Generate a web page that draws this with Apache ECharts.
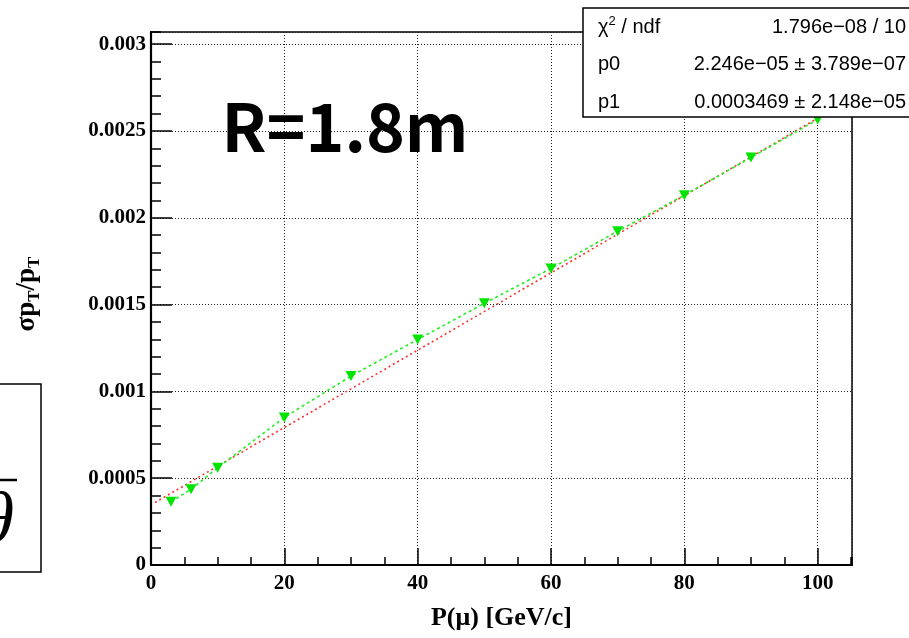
<!DOCTYPE html>
<html>
<head>
<meta charset="utf-8">
<script src="https://cdn.jsdelivr.net/npm/echarts@6/dist/echarts.min.js"></script>
<style>
  html, body { margin: 0; padding: 0; background: #fff; }
  #chart { width: 909px; height: 638px; }
</style>
</head>
<body>
<div id="chart"></div>
<script>
// momentum points (GeV/c) and measured resolution
const pValues = [3, 6, 10, 20, 30, 40, 50, 60, 70, 80, 90, 100];
const sigmaValues = [0.000364, 0.000436, 0.000560, 0.000850, 0.001088, 0.001299,
                     0.001507, 0.001708, 0.001923, 0.002130, 0.002347, 0.002566];

// end points of the linear fit (red dotted line)
const fitX = [0.6, 103];
const fitY = [0.000360, 0.002640];

// stats box rows
const statNames = ['{n|χ}{sup|2}{n| / ndf}', 'p0', 'p1'];
const statValues = ['1.796e\u221208 / 10', '2.246e\u221205 \u00b1 3.789e\u221207', '0.0003469 \u00b1 2.148e\u221205'];

const xMax = 105.15;
const yMax = 0.00307;

const tickFont = {
    fontFamily: 'Liberation Serif',
    fontWeight: 'bold',
    fontSize: 21,
    color: '#000'
};

const chart = echarts.init(document.getElementById('chart'));

const statsTexts = [];
statNames.forEach((name, i) => {
    const y = 27 + i * 37.5;
    statsTexts.push({
        type: 'text', x: 598, y: y, z: 101,
        style: {
            text: name, fill: '#000',
            font: '20px "Liberation Sans"',
            textAlign: 'left', textVerticalAlign: 'middle',
            rich: {
                n: {fontFamily: 'Liberation Sans', fontSize: 20, lineHeight: 24},
                sup: {fontFamily: 'Liberation Sans', fontSize: 13, lineHeight: 24, verticalAlign: 'top'}
            }
        }
    });
    statsTexts.push({
        type: 'text', x: 906, y: y, z: 101,
        style: {
            text: statValues[i], fill: '#000',
            font: '20px "Liberation Sans"',
            textAlign: 'right', textVerticalAlign: 'middle'
        }
    });
});

const gridLine = {show: true, lineStyle: {color: '#222', width: 1, type: [1, 2]}};

const option = {
    animation: false,
    backgroundColor: '#fff',
    grid: {
        left: 151, right: 57, top: 32, bottom: 73,
        show: true,
        borderColor: '#000',
        borderWidth: 1.5,
        backgroundColor: 'transparent'
    },
    xAxis: [{
        type: 'value',
        min: 0, max: xMax, interval: 20,
        name: 'P(\u03bc) [GeV/c]',
        nameLocation: 'middle',
        nameGap: 40,
        nameTextStyle: {fontFamily: 'Liberation Serif', fontWeight: 'bold', fontSize: 26, color: '#000'},
        axisLine: {show: true, lineStyle: {color: '#000', width: 2}},
        axisTick: {show: true, inside: true, length: 17, lineStyle: {color: '#000', width: 1.5}},
        axisLabel: Object.assign({margin: 8, showMaxLabel: false}, tickFont),
        splitLine: gridLine
    }, {
        // minor ticks every 5
        type: 'value',
        position: 'bottom',
        min: 0, max: xMax, interval: 5,
        axisLine: {show: false},
        axisTick: {show: true, inside: true, length: 8, lineStyle: {color: '#000', width: 1.5}},
        axisLabel: {show: false},
        splitLine: {show: false}
    }],
    yAxis: [{
        type: 'value',
        min: 0, max: yMax, interval: 0.0005,
        axisLine: {show: true, lineStyle: {color: '#000', width: 2.2}},
        axisTick: {show: true, inside: true, length: 21, lineStyle: {color: '#000', width: 1.5}},
        axisLabel: Object.assign({margin: 5, showMaxLabel: false}, tickFont),
        splitLine: gridLine
    }, {
        // minor ticks every 0.0001
        type: 'value',
        position: 'left',
        offset: 0,
        min: 0, max: yMax, interval: 0.0001,
        axisLine: {show: false},
        axisTick: {show: true, inside: true, length: 10, lineStyle: {color: '#000', width: 1.5}},
        axisLabel: {show: false},
        splitLine: {show: false}
    }],
    series: [{
        name: 'fit',
        type: 'line',
        data: fitX.map((x, i) => [x, fitY[i]]),
        showSymbol: false,
        silent: true,
        z: 2,
        lineStyle: {color: '#ff3030', width: 1.6, type: [2, 3]}
    }, {
        name: 'data',
        type: 'line',
        data: pValues.map((p, i) => [p, sigmaValues[i]]),
        symbol: 'triangle',
        symbolRotate: 180,
        symbolSize: [11, 10],
        z: 3,
        itemStyle: {color: '#00e400'},
        lineStyle: {color: '#22ee22', width: 1.6, type: [3, 3]}
    }],
    graphic: [
        // big "R=1.8m" label
        {
            type: 'text', x: 345, y: 127, z: 50,
            style: {
                text: 'R=1.8m', fill: '#000',
                font: 'bold 66px "Noto Sans CJK JP"',
                textAlign: 'center', textVerticalAlign: 'middle'
            }
        },
        // y axis title, rotated
        {
            type: 'text', x: 27, y: 294, rotation: Math.PI / 2, z: 50,
            style: {
                text: '{a|\u03c3p}{s|T}{a|/p}{s|T}', fill: '#000',
                textAlign: 'center', textVerticalAlign: 'middle',
                rich: {
                    a: {fontFamily: 'Liberation Serif', fontWeight: 'bold', fontSize: 27, lineHeight: 32},
                    s: {fontFamily: 'Liberation Serif', fontWeight: 'bold', fontSize: 17, lineHeight: 16, verticalAlign: 'bottom'}
                }
            }
        },
        // fragment of a formula box on the left edge
        {
            type: 'rect', z: 50,
            shape: {x: -5, y: 384, width: 46, height: 188},
            style: {fill: 'none', stroke: '#000', lineWidth: 1.5}
        },
        {
            type: 'line', z: 50,
            shape: {x1: 0, y1: 480, x2: 17, y2: 480},
            style: {stroke: '#000', lineWidth: 2.5}
        },
        {
            type: 'text', x: 14, y: 523, z: 50,
            style: {
                text: '\u03b8', fill: '#000',
                font: 'italic 72px "Liberation Serif"',
                textAlign: 'right', textVerticalAlign: 'middle'
            }
        },
        // stats box
        {
            type: 'rect', z: 100,
            shape: {x: 583, y: 8, width: 340, height: 109},
            style: {fill: '#fff', stroke: '#000', lineWidth: 1.5}
        }
    ].concat(statsTexts)
};

chart.setOption(option);
</script>
</body>
</html>
